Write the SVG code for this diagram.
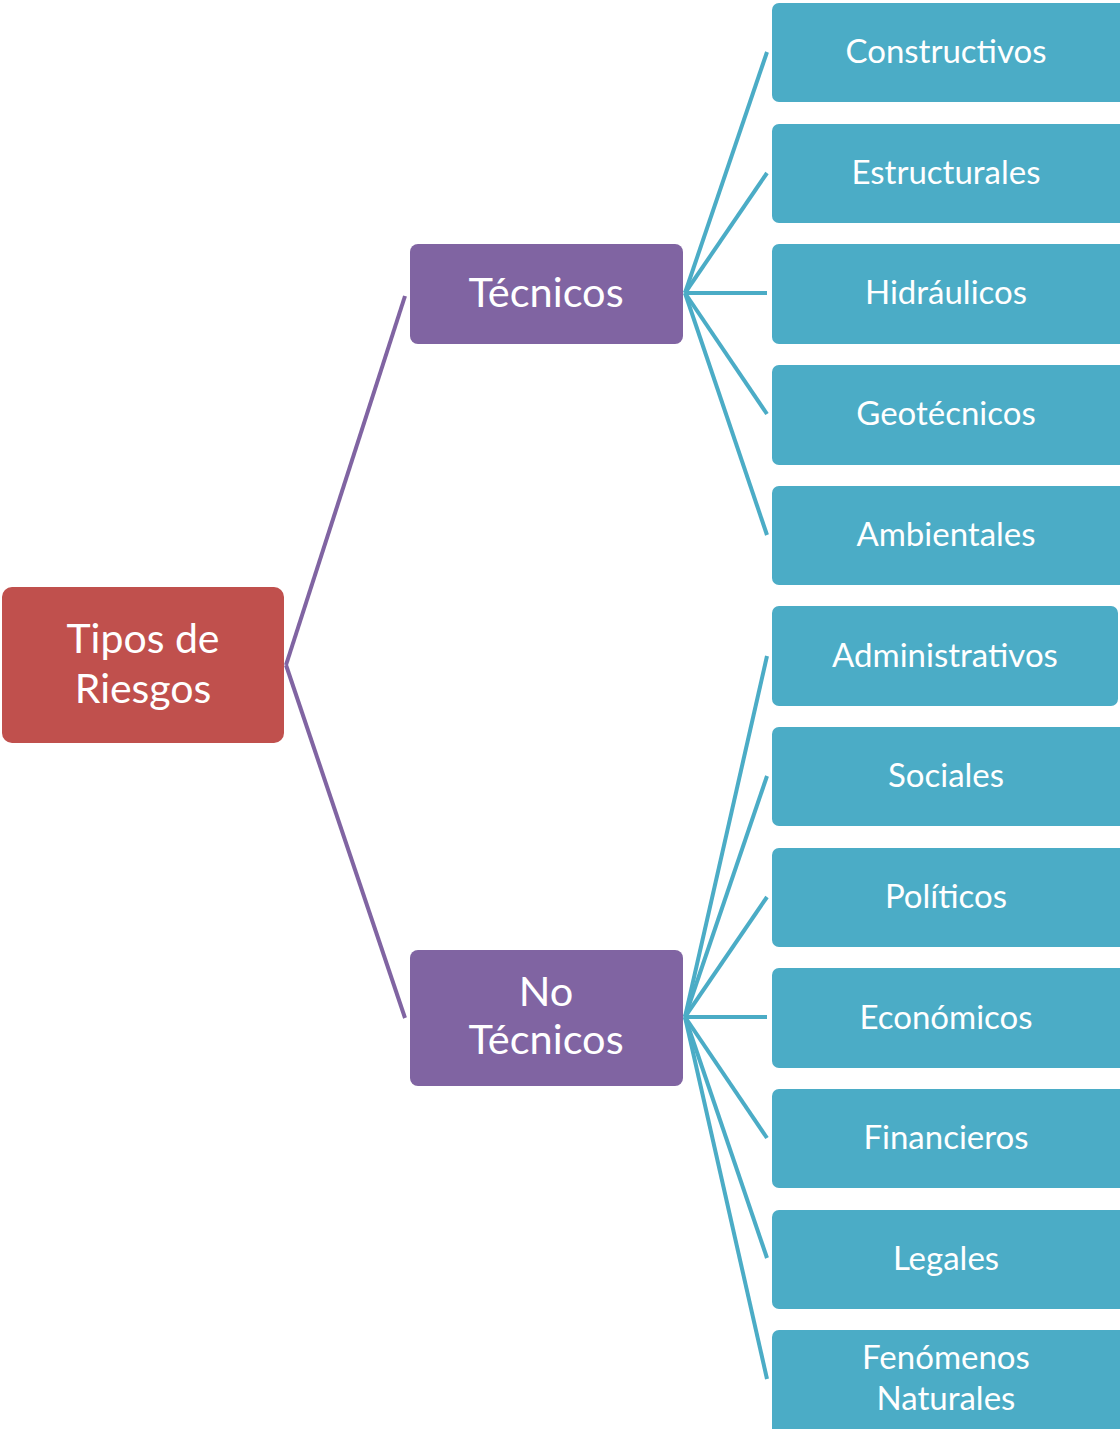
<svg xmlns="http://www.w3.org/2000/svg" width="1120" height="1429" viewBox="0 0 1120 1429">
<style>
.root{fill:#C0504D}
.mid{fill:#8064A2}
.leaf{fill:#4BACC6}
text{fill:#fff;font-family:Lato,"Open Sans",sans-serif;text-anchor:middle}
.t1{font-size:41px}
.t2{font-size:41.5px}
.t3{font-size:33px}
.cp{stroke:#8064A2;stroke-width:4;fill:none}
.ct{stroke:#4BACC6;stroke-width:4;fill:none}
</style>
<rect width="1120" height="1429" fill="#fff"/>
<g id="connectors">
<path class="cp" d="M286 665 L405 296"/>
<path class="cp" d="M286 665 L405 1018"/>
<path class="ct" d="M685 293 L767 52"/>
<path class="ct" d="M685 293 L767 173"/>
<path class="ct" d="M685 293 L767 293"/>
<path class="ct" d="M685 293 L767 414"/>
<path class="ct" d="M685 293 L767 535"/>
<path class="ct" d="M685 1017 L767 656"/>
<path class="ct" d="M685 1017 L767 776"/>
<path class="ct" d="M685 1017 L767 897"/>
<path class="ct" d="M685 1017 L767 1017"/>
<path class="ct" d="M685 1017 L767 1138"/>
<path class="ct" d="M685 1017 L767 1258"/>
<path class="ct" d="M685 1017 L767 1379"/>
</g>
<g id="n-root"><rect class="root" x="2" y="587" width="282" height="156" rx="10"/><text class="t1" x="143" y="653">Tipos de</text><text class="t1" x="143" y="703">Riesgos</text></g>
<g id="n-tecnicos"><rect class="mid" x="410" y="244" width="273" height="100" rx="8"/><text class="t2" x="546" y="307">Técnicos</text></g>
<g id="n-notecnicos"><rect class="mid" x="410" y="950" width="273" height="136" rx="8"/><text class="t2" x="546" y="1006">No</text><text class="t2" x="546" y="1054">Técnicos</text></g>
<g id="n-constructivos"><rect class="leaf" x="772" y="3" width="356" height="99" rx="7"/><text class="t3" x="946" y="63">Constructivos</text></g>
<g id="n-estructurales"><rect class="leaf" x="772" y="124" width="356" height="99" rx="7"/><text class="t3" x="946" y="184">Estructurales</text></g>
<g id="n-hidraulicos"><rect class="leaf" x="772" y="244" width="356" height="100" rx="7"/><text class="t3" x="946" y="304">Hidráulicos</text></g>
<g id="n-geotecnicos"><rect class="leaf" x="772" y="365" width="356" height="100" rx="7"/><text class="t3" x="946" y="425">Geotécnicos</text></g>
<g id="n-ambientales"><rect class="leaf" x="772" y="486" width="356" height="99" rx="7"/><text class="t3" x="946" y="546">Ambientales</text></g>
<g id="n-administrativos"><rect class="leaf" x="772" y="606" width="346" height="100" rx="7"/><text class="t3" x="945" y="667">Administrativos</text></g>
<g id="n-sociales"><rect class="leaf" x="772" y="727" width="356" height="99" rx="7"/><text class="t3" x="946" y="787">Sociales</text></g>
<g id="n-politicos"><rect class="leaf" x="772" y="848" width="356" height="99" rx="7"/><text class="t3" x="946" y="908">Políticos</text></g>
<g id="n-economicos"><rect class="leaf" x="772" y="968" width="356" height="100" rx="7"/><text class="t3" x="946" y="1029">Económicos</text></g>
<g id="n-financieros"><rect class="leaf" x="772" y="1089" width="356" height="99" rx="7"/><text class="t3" x="946" y="1149">Financieros</text></g>
<g id="n-legales"><rect class="leaf" x="772" y="1210" width="356" height="99" rx="7"/><text class="t3" x="946" y="1270">Legales</text></g>
<g id="n-fenomenos"><rect class="leaf" x="772" y="1330" width="356" height="110" rx="7"/><text class="t3" x="946" y="1369">Fenómenos</text><text class="t3" x="946" y="1410">Naturales</text></g>
</svg>
